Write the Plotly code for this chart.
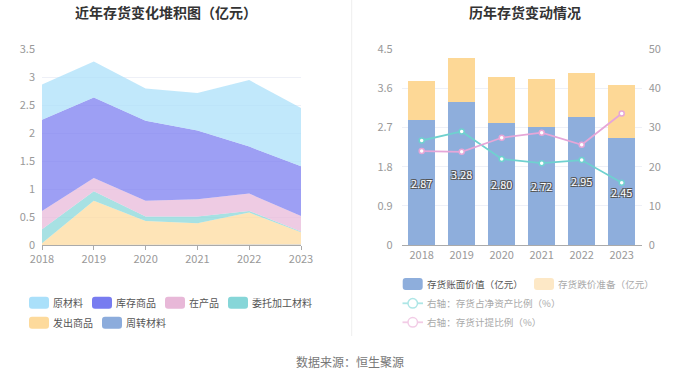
import plotly.graph_objects as go

years = ["2018", "2019", "2020", "2021", "2022", "2023"]

# Left chart: stacked inventory composition (亿元)
raw_material = [0.63, 0.64, 0.58, 0.67, 1.19, 1.04]      # 原材料
finished_goods = [1.63, 1.44, 1.43, 1.23, 0.84, 0.89]    # 库存商品
wip = [0.33, 0.24, 0.28, 0.31, 0.31, 0.28]               # 在产品
consigned = [0.25, 0.17, 0.08, 0.12, 0.03, 0.01]         # 委托加工材料
shipped = [0.03, 0.79, 0.43, 0.39, 0.58, 0.22]           # 发出商品
turnover = [0.0, 0.0, 0.0, 0.0, 0.0, 0.01]               # 周转材料

# Right chart
book_value = [2.87, 3.28, 2.80, 2.72, 2.95, 2.45]        # 存货账面价值
impairment = [0.91, 1.03, 1.06, 1.10, 1.01, 1.24]        # 存货跌价准备
ratio_net_assets = [26.7, 29.0, 22.0, 20.9, 21.7, 15.9]  # 存货占净资产比例
ratio_provision = [24.0, 23.8, 27.4, 28.7, 25.6, 33.6]   # 存货计提比例

left_names = ["原材料", "库存商品", "在产品", "委托加工材料", "发出商品", "周转材料"]
left_colors = ["#aae0fa", "#787cf0", "#e8b8d8", "#86d6d8", "#fdda9c", "#8cacdc"]

W, H = 700, 378
FONT = "Noto Sans CJK SC"


def px(x):
    return x / W


def py(y):
    return 1 - y / H


def rgba(hexc, a):
    h = hexc.lstrip("#")
    r, g, b = int(h[0:2], 16), int(h[2:4], 16), int(h[4:6], 16)
    return f"rgba({r},{g},{b},{a})"


fig = go.Figure()

# stacked areas, bottom first
stack_order = [
    (turnover, 5), (shipped, 4), (consigned, 3), (wip, 2),
    (finished_goods, 1), (raw_material, 0),
]
for vals, idx in stack_order:
    fig.add_trace(go.Scatter(
        x=years, y=vals, name=left_names[idx], stackgroup="inv",
        mode="lines", line=dict(width=0, color=left_colors[idx]),
        fillcolor=rgba(left_colors[idx], 0.73),
        xaxis="x", yaxis="y", showlegend=False, hoverinfo="skip",
    ))

# right chart bars
fig.add_trace(go.Bar(
    x=years, y=book_value, name="存货账面价值（亿元）",
    marker=dict(color="#8eaedc", line=dict(width=0)),
    text=[f"{v:.2f}" for v in book_value], textposition="inside",
    insidetextanchor="middle", textangle=0,
    textfont=dict(color="#ffffff", size=11, family=FONT,
                  shadow="1px 1px 0 #555, -1px -1px 0 #555, 1px -1px 0 #555, -1px 1px 0 #555"),
    width=0.68, xaxis="x2", yaxis="y2", showlegend=False, hoverinfo="skip",
))
fig.add_trace(go.Bar(
    x=years, y=impairment, name="存货跌价准备（亿元）",
    marker=dict(color="#fdd896", line=dict(width=0)),
    width=0.68, xaxis="x2", yaxis="y2", showlegend=False, hoverinfo="skip",
))
fig.add_trace(go.Scatter(
    x=years, y=ratio_net_assets, name="右轴：存货占净资产比例（%）",
    mode="lines+markers", line=dict(color="#6fd1cf", width=1.8),
    marker=dict(size=5, color="#ffffff", line=dict(color="#6fd1cf", width=1.5)),
    xaxis="x2", yaxis="y3", showlegend=False, hoverinfo="skip",
))
fig.add_trace(go.Scatter(
    x=years, y=ratio_provision, name="右轴：存货计提比例（%）",
    mode="lines+markers", line=dict(color="#e6a6d8", width=1.8),
    marker=dict(size=5, color="#ffffff", line=dict(color="#e6a6d8", width=1.5)),
    xaxis="x2", yaxis="y3", showlegend=False, hoverinfo="skip",
))

tickfont = dict(family=FONT, size=11, color="#999999")
ydom = [py(245), py(49.3)]

fig.update_layout(
    width=W, height=H, autosize=False,
    margin=dict(l=0, r=0, t=0, b=0, pad=0),
    paper_bgcolor="white", plot_bgcolor="white",
    barmode="stack",
    showlegend=False,
    font=dict(family=FONT),
    xaxis=dict(domain=[px(42), px(301)], type="category", range=[0, 5],
               showline=True, linecolor="#aaaaaa", ticks="outside", ticklen=4,
               tickcolor="#aaaaaa", tickfont=tickfont, showgrid=False,
               zeroline=False, fixedrange=True, automargin=False),
    yaxis=dict(domain=ydom, range=[0, 3.5], dtick=0.5, tickfont=tickfont,
               showgrid=True, gridcolor="#eef0f7", zeroline=False,
               showline=False, ticklabelstandoff=6, fixedrange=True,
               automargin=False),
    xaxis2=dict(domain=[px(401.7), px(641.7)], type="category",
                range=[-0.5, 5.5], anchor="y2",
                showline=True, linecolor="#aaaaaa", ticks="",
                tickfont=tickfont, showgrid=False, zeroline=False,
                fixedrange=True, automargin=False),
    yaxis2=dict(domain=ydom, range=[0, 4.5], dtick=0.9, anchor="x2",
                tickfont=tickfont, showgrid=True, gridcolor="#eef0f7",
                zeroline=False, showline=False, ticklabelstandoff=8,
                tickformat=".1~f", fixedrange=True, automargin=False),
    yaxis3=dict(domain=ydom, range=[0, 50], dtick=10, anchor="x2",
                overlaying="y2", side="right", tickfont=tickfont,
                showgrid=False, zeroline=False, showline=False,
                ticklabelstandoff=6, fixedrange=True, automargin=False),
)

shapes = []
annotations = []


def rrect(x0, y0, x1, y1, r, color):
    path = (f"M {px(x0 + r)} {py(y0)} L {px(x1 - r)} {py(y0)} "
            f"Q {px(x1)} {py(y0)} {px(x1)} {py(y0 + r)} "
            f"L {px(x1)} {py(y1 - r)} Q {px(x1)} {py(y1)} {px(x1 - r)} {py(y1)} "
            f"L {px(x0 + r)} {py(y1)} Q {px(x0)} {py(y1)} {px(x0)} {py(y1 - r)} "
            f"L {px(x0)} {py(y0 + r)} Q {px(x0)} {py(y0)} {px(x0 + r)} {py(y0)} Z")
    return dict(type="path", xref="paper", yref="paper", path=path,
                fillcolor=color, line=dict(width=0), layer="above")


def text(x, y, s, color="#555555", size=12, xanchor="left", bold=False):
    if bold:
        s = f"<b>{s}</b>"
    annotations.append(dict(x=px(x), y=py(y), xref="paper", yref="paper",
                            text=s, showarrow=False, xanchor=xanchor,
                            yanchor="middle",
                            font=dict(family=FONT, size=size, color=color)))


# titles
text(166, 12, "近年存货变化堆积图（亿元）", color="#333333", size=14, xanchor="center", bold=True)
text(525, 12, "历年存货变动情况", color="#333333", size=14, xanchor="center", bold=True)
text(350, 361, "数据来源：恒生聚源", color="#777777", size=12, xanchor="center")

# divider
shapes.append(dict(type="line", xref="paper", yref="paper",
                   x0=px(351.7), x1=px(351.7), y0=py(0), y1=py(336),
                   line=dict(color="#eeeeee", width=1)))

# left legend
leg_pos = [(29, 302.7), (92, 302.7), (165, 302.7), (228, 302.7),
           (29, 322.7), (102, 322.7)]
for i, (lx, ly) in enumerate(leg_pos):
    shapes.append(rrect(lx, ly - 6, lx + 20, ly + 6, 3, left_colors[i]))
    text(lx + 22, ly, left_names[i], color="#555555", size=10)

# right legend
shapes.append(rrect(402.7, 278, 422.7, 290, 3, "#8eaedc"))
text(424.5, 284, "存货账面价值（亿元）", color="#555555", size=9.6)
shapes.append(rrect(534, 278, 554, 290, 3, "#fde8c6"))
text(556, 284, "存货跌价准备（亿元）", color="#aaaaaa", size=9.6)
for (ly, col, label) in [(303.3, "#aee6e6", "右轴：存货占净资产比例（%）"),
                         (322.3, "#f2cce6", "右轴：存货计提比例（%）")]:
    shapes.append(dict(type="line", xref="paper", yref="paper",
                       x0=px(402.5), x1=px(423), y0=py(ly), y1=py(ly),
                       line=dict(color=col, width=1.8)))
    shapes.append(dict(type="circle", xref="paper", yref="paper",
                       x0=px(408), x1=px(417.5), y0=py(ly - 4.7), y1=py(ly + 4.7),
                       fillcolor="white", line=dict(color=col, width=1.5)))
    text(424.5, ly, label, color="#aaaaaa", size=9.6)

fig.update_layout(shapes=shapes, annotations=annotations)
fig.write_html(
    "out.html",
    config={"displayModeBar": False},
    post_script="document.body.style.margin='0';document.body.style.padding='0';",
)
